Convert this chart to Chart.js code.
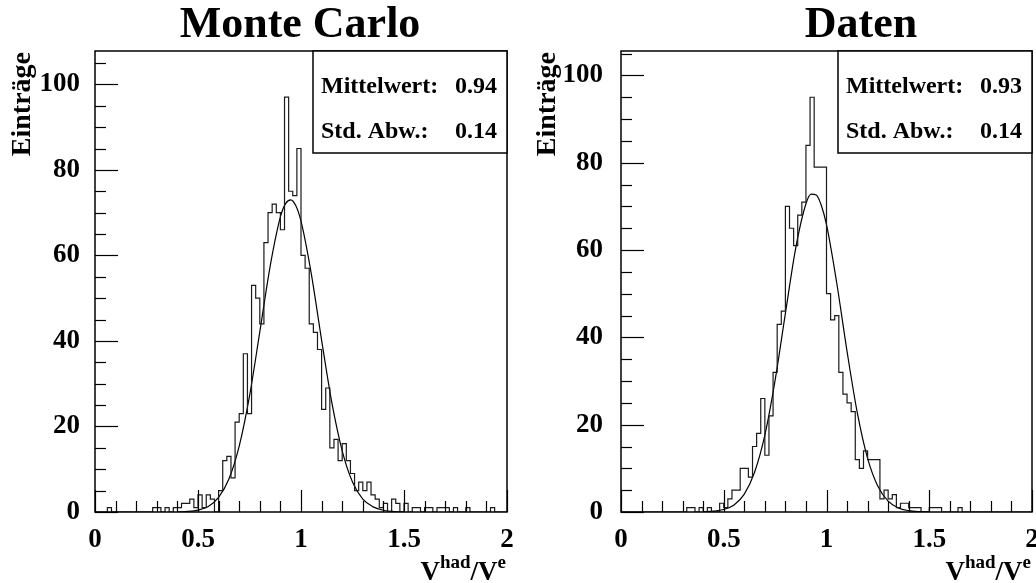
<!DOCTYPE html>
<html><head><meta charset="utf-8">
<script src="https://cdn.jsdelivr.net/npm/chart.js@4.4.1/dist/chart.umd.min.js"></script>
<style>
body{margin:0;background:#fff;width:1036px;height:583px;overflow:hidden;position:relative}
canvas{position:absolute;top:0}
#c1{left:0}#c2{left:518px}
</style></head><body>
<canvas id="c1" width="518" height="583"></canvas>
<canvas id="c2" width="518" height="583"></canvas>
<script>
// ---- data ----
const binLow = 0.0;
const binWidth = 0.02;
const mcCounts = [
 0,0,0,0,1,0,0,0,0,0,
 0,0,0,0,0,1,1,0,1,0,
 1,1,2,2,3,1,4,1,4,3,
 0,5,12,13,8,21,23,37,23,53,
 50,44,63,70,72,70,66,97,75,74,
 85,60,57,44,42,38,24,29,15,17,
 12,16,12,9,5,7,5,7,4,3,
 1,2,0,3,2,0,2,0,1,1,
 0,1,1,0,1,1,1,0,1,0,
 0,1,0,0,0,0,0,1,0,0
];
const dataCounts = [
 0,0,0,0,0,0,0,0,0,0,
 0,0,0,0,0,0,0,1,1,0,
 1,0,1,0,0,2,1,3,5,5,
 10,10,8,15,18,26,13,22,32,43,
 46,70,65,61,68,71,84,95,79,79,
 79,50,44,45,32,27,25,23,12,10,
 14,12,12,12,3,5,3,4,1,2,
 2,1,1,1,0,0,1,1,1,0,
 0,0,0,1,0,0,0,0,0,0,
 0,0,0,0,0,0,0,0,0,0
];
const fitX   = [0.40,0.45,0.50,0.55,0.60,0.65,0.70,0.75,0.80,0.85,0.90,0.925,0.95,0.975,1.00,1.05,1.10,1.15,1.20,1.25,1.30,1.35,1.40,1.45,1.50];
const mcFit  = [0.04,0.13,0.45,1.3,3.4,7.7,15.4,27.1,42.1,57.4,69.0,72.1,73.0,71.6,68.0,55.7,40.2,25.5,14.3,7.0,3.0,1.2,0.4,0.11,0.03];
const dataFit= [0.05,0.18,0.57,1.6,4.1,9.1,17.6,30.2,45.5,60.4,70.6,72.8,72.6,70.2,65.8,52.4,36.8,22.7,12.3,5.9,2.5,0.92,0.30,0.08,0.02];
const xTickValues = [0, 0.5, 1, 1.5, 2];
const yTickValues = [0, 20, 40, 60, 80, 100];
const panelTitles = ['Monte Carlo', 'Daten'];
const meanTexts = ['0.94', '0.93'];
const stdTexts  = ['0.14', '0.14'];

// ---- helpers ----
function histPoints(counts){
  const pts = counts.map((c,i)=>({x: binLow + i*binWidth, y: c}));
  pts.push({x: binLow + counts.length*binWidth, y: counts[counts.length-1]});
  return pts;
}
function fitPoints(xs, ys){ return xs.map((x,i)=>({x:x, y:ys[i]})); }

const SERIF = '"Liberation Serif","Times New Roman",Times,serif';
function noPad(s){ s.paddingLeft = 0; s.paddingRight = 0; s.paddingTop = 0; s.paddingBottom = 0; }

function makeChart(canvasId, counts, fit, cfg){
  const decor = {
    id:'decor',
    afterDraw(chart){
      const ctx = chart.ctx, a = chart.chartArea;
      const xs = chart.scales.x, ys = chart.scales.y;
      ctx.save();
      ctx.strokeStyle = '#000'; ctx.lineWidth = 1.5;
      ctx.strokeRect(a.left, a.top, a.right - a.left, a.bottom - a.top);
      ctx.lineWidth = 1.2;
      for (let v = 0; v <= ys.max + 1e-9; v += 5){
        const p = Math.round(ys.getPixelForValue(v)) + 0.5;
        const len = (v % 20 === 0) ? 23 : 11;
        ctx.beginPath(); ctx.moveTo(a.left, p); ctx.lineTo(a.left + len, p); ctx.stroke();
      }
      for (let k = 0; k <= 20; k++){
        const v = k * 0.1;
        const p = Math.round(xs.getPixelForValue(v)) + 0.5;
        const len = (k % 5 === 0) ? 22 : 11;
        ctx.beginPath(); ctx.moveTo(p, a.bottom); ctx.lineTo(p, a.bottom - len); ctx.stroke();
      }
      ctx.fillStyle = '#000';
      ctx.font = 'bold 44px ' + SERIF;
      ctx.textAlign = 'center'; ctx.textBaseline = 'alphabetic';
      ctx.fillText(cfg.title, cfg.titleX, 37);
      ctx.save();
      ctx.translate(cfg.yTitleX, a.top + 1);
      ctx.rotate(-Math.PI/2);
      ctx.font = 'bold 28px ' + SERIF;
      ctx.textAlign = 'right';
      ctx.fillText('Einträge', 0, 0);
      ctx.restore();
      const big = 'bold 27px ' + SERIF, small = 'bold 19px ' + SERIF;
      ctx.font = big; const wV = ctx.measureText('V').width, wS = ctx.measureText('/V').width;
      ctx.font = small; const wH = ctx.measureText('had').width, wE = ctx.measureText('e').width;
      const total = wV + wH + wS + wE;
      let x0 = a.right - total - 1; const bl = 580;
      ctx.textAlign = 'left';
      ctx.font = big;   ctx.fillText('V', x0, bl); x0 += wV;
      ctx.font = small; ctx.fillText('had', x0, bl - 12); x0 += wH;
      ctx.font = big;   ctx.fillText('/V', x0, bl); x0 += wS;
      ctx.font = small; ctx.fillText('e', x0, bl - 12);
      const bx = cfg.boxLeft, by = a.top, bw = a.right - cfg.boxLeft, bh = 102;
      ctx.fillStyle = '#fff'; ctx.fillRect(bx, by, bw, bh);
      ctx.strokeStyle = '#000'; ctx.lineWidth = 1.5; ctx.strokeRect(bx, by, bw, bh);
      ctx.fillStyle = '#000';
      ctx.font = 'bold 24px ' + SERIF;
      ctx.textAlign = 'left';
      ctx.fillText('Mittelwert:', bx + 8, by + 42);
      ctx.fillText('Std. Abw.:', bx + 8, by + 87);
      ctx.textAlign = 'right';
      ctx.fillText(cfg.mean, a.right - 10, by + 42);
      ctx.fillText(cfg.std, a.right - 10, by + 87);
      ctx.restore();
    }
  };
  return new Chart(document.getElementById(canvasId), {
    type: 'line',
    data: { datasets: [
      { data: histPoints(counts), stepped: 'after', borderColor: '#1a1a1a', borderWidth: 1.2,
        pointRadius: 0, fill: false },
      { data: fitPoints(fitX, fit), borderColor: '#000', borderWidth: 1.2, pointRadius: 0,
        cubicInterpolationMode: 'monotone', fill: false }
    ]},
    options: {
      responsive: false, animation: false, events: [],
      layout: { padding: { top: 51, right: cfg.padRight, left: 0, bottom: 0 } },
      plugins: { legend: { display: false }, tooltip: { enabled: false }, title: { display: false } },
      scales: {
        x: { type: 'linear', min: 0, max: 2,
             grid: { display: false, drawTicks: false }, border: { display: false },
             afterBuildTicks: s => { s.ticks = xTickValues.map(v => ({value: v})); },
             afterFit: s => { s.height = 71; noPad(s); },
             ticks: { autoSkip: false, maxRotation: 0, padding: 12, color: '#000',
                      font: { family: SERIF, size: 27, weight: 'bold' },
                      callback: v => String(v) } },
        y: { type: 'linear', min: 0, max: cfg.yMax,
             grid: { display: false, drawTicks: false }, border: { display: false },
             afterBuildTicks: s => { s.ticks = yTickValues.map(v => ({value: v})); },
             afterFit: s => { s.width = cfg.axisLeft; noPad(s); },
             ticks: { autoSkip: false, padding: cfg.yPad, color: '#000',
                      font: { family: SERIF, size: 27, weight: 'bold' },
                      callback: v => String(v) } }
      }
    },
    plugins: [decor]
  });
}

makeChart('c1', mcCounts, mcFit, { title: panelTitles[0], titleX: 300, yTitleX: 30, axisLeft: 95, padRight: 11,
  yMax: 107.8, yPad: 15, boxLeft: 313, mean: meanTexts[0], std: stdTexts[0] });
makeChart('c2', dataCounts, dataFit, { title: panelTitles[1], titleX: 343, yTitleX: 37, axisLeft: 103, padRight: 4,
  yMax: 105.6, yPad: 18, boxLeft: 320, mean: meanTexts[1], std: stdTexts[1] });
</script>
</body></html>
